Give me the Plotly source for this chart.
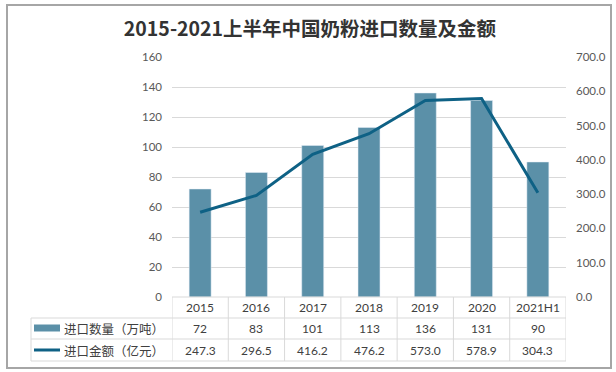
import plotly.graph_objects as go

years = ["2015", "2016", "2017", "2018", "2019", "2020", "2021H1"]
quantity = [72, 83, 101, 113, 136, 131, 90]
amount = [247.3, 296.5, 416.2, 476.2, 573.0, 578.9, 304.3]
qty_labels = ["72", "83", "101", "113", "136", "131", "90"]
amt_labels = ["247.3", "296.5", "416.2", "476.2", "573.0", "578.9", "304.3"]
series_names = ["进口数量（万吨）", "进口金额（亿元）"]
title_text = "2015-2021上半年中国奶粉进口数量及金额"

W, H = 616, 372
L, R, T, B = 172, 50, 57, 75
PW, PH = W - L - R, H - T - B
BAR_C = "#5B90A8"
LINE_C = "#0E6185"
GRID_C = "#D9D9D9"
TXT_C = "#404040"
TICK_C = "#595959"
FONT = "Noto Sans CJK SC, Noto Sans, sans-serif"
NUM_FONT = "Lato, Noto Sans, sans-serif"

def px(x):
    return (x - L) / PW

def py(y):
    return (H - B - y) / PH

fig = go.Figure()
fig.add_trace(go.Bar(x=years, y=quantity, name=series_names[0], marker_color=BAR_C,
                     width=0.39, yaxis="y", hoverinfo="skip"))
fig.add_trace(go.Scatter(x=years, y=amount, name=series_names[1], mode="lines",
                         line=dict(color=LINE_C, width=3), yaxis="y2", hoverinfo="skip"))

shapes = []
# outer border
shapes.append(dict(type="rect", xref="paper", yref="paper", x0=px(7), x1=px(611),
                   y0=py(5), y1=py(368), line=dict(color="#A6A6A6", width=2)))
# table horizontal lines
for yy in [318, 339, 361]:
    shapes.append(dict(type="line", xref="paper", yref="paper", x0=px(31), x1=1,
                       y0=py(yy), y1=py(yy), line=dict(color=GRID_C, width=1)))
shapes.append(dict(type="line", xref="paper", yref="paper", x0=0, x1=1,
                   y0=0, y1=0, line=dict(color=GRID_C, width=1)))
# table vertical lines
shapes.append(dict(type="line", xref="paper", yref="paper", x0=px(31), x1=px(31),
                   y0=py(318), y1=py(361), line=dict(color=GRID_C, width=1)))
for i in range(len(years) + 1):
    shapes.append(dict(type="line", xref="x", yref="paper", x0=i - 0.5, x1=i - 0.5,
                       y0=0, y1=py(361), line=dict(color=GRID_C, width=1)))
# legend swatches
shapes.append(dict(type="rect", xref="paper", yref="paper", x0=px(34), x1=px(60),
                   y0=py(324.5), y1=py(331.5), fillcolor=BAR_C, line=dict(width=0)))
shapes.append(dict(type="line", xref="paper", yref="paper", x0=px(34), x1=px(60),
                   y0=py(350), y1=py(350), line=dict(color=LINE_C, width=3)))

annotations = []
row_y = [py(307.5), py(328.5), py(350)]
for i, yr in enumerate(years):
    for ry, txt in zip(row_y, [yr, qty_labels[i], amt_labels[i]]):
        annotations.append(dict(x=i, y=ry, xref="x", yref="paper", text=txt,
                                xanchor="center", yanchor="middle", showarrow=False,
                                font=dict(size=12, color=TXT_C, family=NUM_FONT)))
for k, name in enumerate(series_names):
    annotations.append(dict(x=px(62), y=row_y[k + 1], xref="paper", yref="paper", text=name,
                            xanchor="left", yanchor="middle", showarrow=False,
                            font=dict(size=12.5, color=TXT_C, family=FONT)))

fig.update_layout(
    width=W, height=H,
    margin=dict(l=L, r=R, t=T, b=B, pad=0, autoexpand=False),
    paper_bgcolor="white", plot_bgcolor="white",
    showlegend=False,
    font=dict(family=FONT),
    title=dict(text="<b>" + title_text + "</b>", x=310 / W, xanchor="center",
               y=1 - 29 / H, yanchor="middle",
               font=dict(size=19.5, color="#333333", family=FONT)),
    xaxis=dict(type="category", range=[-0.5, len(years) - 0.5], showticklabels=False,
               showgrid=False, zeroline=False, showline=False, ticks=""),
    yaxis=dict(range=[0, 160], dtick=20, showgrid=True, gridcolor=GRID_C, zeroline=False,
               showline=False, ticks="", ticklabelstandoff=9,
               tickfont=dict(size=11.5, color=TICK_C, family=NUM_FONT)),
    yaxis2=dict(range=[0, 700], dtick=100, tickformat=".1f", overlaying="y", side="right",
                showgrid=False, zeroline=False, showline=False, ticks="", ticklabelstandoff=9,
                tickfont=dict(size=11.5, color=TICK_C, family=NUM_FONT)),
    shapes=shapes,
    annotations=annotations,
)

fig.write_html("out.html", config={"displayModeBar": False},
               post_script="document.body.style.margin='0';")
